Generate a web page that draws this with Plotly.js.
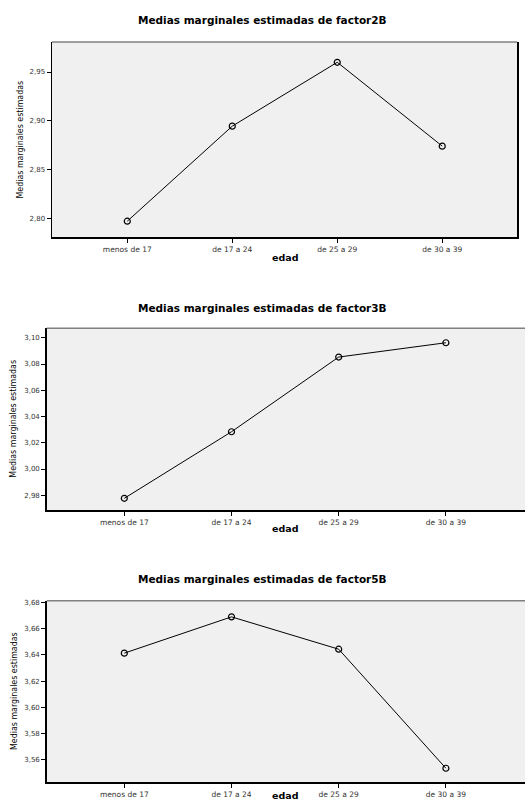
<!DOCTYPE html>
<html>
<head>
<meta charset="utf-8">
<script src="https://cdn.plot.ly/plotly-3.0.1.min.js"></script>
<style>
  html, body { margin: 0; padding: 0; background: #ffffff; }
  #chart { width: 525px; height: 802px; }
</style>
</head>
<body>
<div id="chart"></div>
<script>
// ---- Data ----
const categories = ['menos de 17', 'de 17 a 24', 'de 25 a 29', 'de 30 a 39'];
const factor2B = [2.7970, 2.8945, 2.9600, 2.8740];
const factor3B = [2.9777, 3.0284, 3.0853, 3.0962];
const factor5B = [3.6413, 3.6689, 3.6443, 3.5537];

const chartTitles = [
  'Medias marginales estimadas de factor2B',
  'Medias marginales estimadas de factor3B',
  'Medias marginales estimadas de factor5B'
];
const xAxisTitle = 'edad';
const yAxisTitle = 'Medias marginales estimadas';

// ---- Layout helpers ----
const W = 525, H = 802;
const px = v => v / W;
const py = v => 1 - v / H;

const panels = [
  { y: factor2B, left: 52, right: 517, top: 42, bottom: 237, yRange: [2.7808, 2.9808], dtick: 0.05, tick0: 2.80,
    xRange: [-0.717, 3.712], mirror: true, titleY: 20, edadY: 257, yTitleX: 19 },
  { y: factor3B, left: 46.7, right: 525, top: 328.3, bottom: 510, yRange: [2.9688, 3.1072], dtick: 0.02, tick0: 2.98,
    xRange: [-0.724, 3.738], mirror: false, titleY: 308.3, edadY: 528, yTitleX: 13.5 },
  { y: factor5B, left: 46.7, right: 525, top: 600.7, bottom: 782.3, yRange: [3.543, 3.6812], dtick: 0.02, tick0: 3.56,
    xRange: [-0.724, 3.738], mirror: false, titleY: 579.3, edadY: 795, yTitleX: 13.5 }
];

const data = [];
const layout = {
  width: W, height: H,
  margin: { l: 0, r: 0, t: 0, b: 0, pad: 0 },
  paper_bgcolor: '#ffffff',
  plot_bgcolor: '#f0f0f0',
  showlegend: false,
  separators: ',.',
  annotations: [],
  shapes: []
};

panels.forEach((p, i) => {
  const n = i === 0 ? '' : String(i + 1);
  const xa = 'xaxis' + n, ya = 'yaxis' + n;
  const xr = 'x' + n, yr = 'y' + n;

  data.push({
    type: 'scatter', mode: 'lines+markers',
    x: categories, y: p.y,
    xaxis: xr, yaxis: yr,
    line: { color: '#000000', width: 1 },
    marker: { symbol: 'circle-open', size: 6, color: '#000000', line: { width: 1.2, color: '#000000' } },
    hoverinfo: 'x+y'
  });

  layout[xa] = {
    domain: [px(p.left), px(p.right)],
    anchor: yr,
    type: 'category',
    categoryorder: 'array', categoryarray: categories,
    range: p.xRange,
    showgrid: false, zeroline: false,
    showline: true, linecolor: '#000000', linewidth: 1.5,
    ticks: 'outside', ticklen: 4, tickwidth: 1, tickcolor: '#000000',
    tickfont: { family: 'DejaVu Sans, Arial, sans-serif', size: 7.5, color: '#333333' },
    fixedrange: true
  };
  layout[ya] = {
    domain: [py(p.bottom), py(p.top)],
    anchor: xr,
    range: p.yRange,
    tick0: p.tick0, dtick: p.dtick,
    tickformat: '.2f',
    showgrid: false, zeroline: false,
    showline: true, linecolor: '#000000', linewidth: 1.5, mirror: p.mirror,
    ticks: 'outside', ticklen: 4, tickwidth: 1, tickcolor: '#000000',
    tickfont: { family: 'DejaVu Sans, Arial, sans-serif', size: 7, color: '#333333' },
    fixedrange: true
  };

  // gray top frame line
  layout.shapes.push({
    type: 'line', xref: xr + ' domain', yref: yr + ' domain',
    x0: 0, x1: 1, y0: 1, y1: 1,
    line: { color: '#808080', width: 1.5 }
  });

  // chart title
  layout.annotations.push({
    text: '<b>' + chartTitles[i] + '</b>',
    xref: 'paper', yref: 'paper', x: px(262), y: py(p.titleY),
    xanchor: 'center', yanchor: 'middle', showarrow: false,
    font: { family: 'DejaVu Sans, Arial, sans-serif', size: 10.5, color: '#000000' }
  });
  // x axis title
  layout.annotations.push({
    text: '<b>' + xAxisTitle + '</b>',
    xref: 'paper', yref: 'paper', x: px(284.5), y: py(p.edadY),
    xanchor: 'center', yanchor: 'middle', showarrow: false,
    font: { family: 'DejaVu Sans, Arial, sans-serif', size: 9.5, color: '#000000' }
  });
  // y axis title
  layout.annotations.push({
    text: yAxisTitle,
    xref: 'paper', yref: 'paper', x: px(p.yTitleX), y: py((p.top + p.bottom) / 2),
    xanchor: 'center', yanchor: 'middle', showarrow: false, textangle: -90,
    font: { family: 'Liberation Sans Narrow, DejaVu Sans Condensed, Arial Narrow, Liberation Sans, sans-serif', size: 8.8, color: '#000000' }
  });
});

Plotly.newPlot('chart', data, layout, { displayModeBar: false, staticPlot: true });
</script>
</body>
</html>
